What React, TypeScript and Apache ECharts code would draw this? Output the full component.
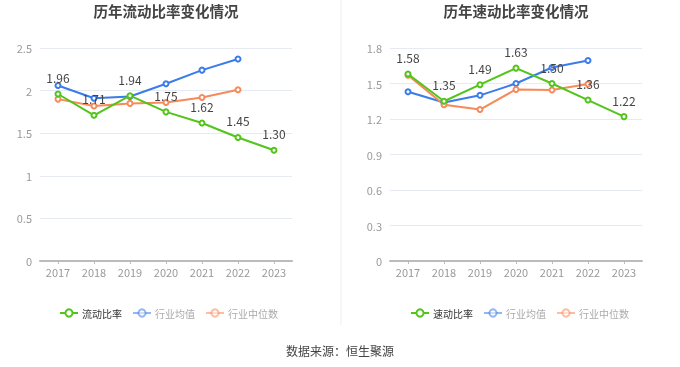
import React, { useEffect, useRef } from "react";
import * as echarts from "echarts";

const years = ["2017", "2018", "2019", "2020", "2021", "2022", "2023"];
const currentRatio = [1.96, 1.71, 1.94, 1.75, 1.62, 1.45, 1.3];
const currentAvg = [2.06, 1.91, 1.93, 2.08, 2.24, 2.37, null];
const currentMedian = [1.9, 1.82, 1.85, 1.86, 1.92, 2.01, null];
const quickRatio = [1.58, 1.35, 1.49, 1.63, 1.5, 1.36, 1.22];
const quickAvg = [1.43, 1.34, 1.4, 1.5, 1.635, 1.695, null];
const quickMedian = [1.57, 1.32, 1.28, 1.45, 1.445, 1.495, null];

const GREEN = "#52c41a";
const BLUE = "#3b7bea";
const ORANGE = "#f7895a";
const FONT = "'Noto Sans CJK SC', 'Noto Sans', sans-serif";

export default function App() {
  const ref = useRef<HTMLDivElement>(null);
  useEffect(() => {
    if (!ref.current) return;
    const chart = echarts.init(ref.current, undefined, { renderer: "svg" });
    const xAxis = (gi: number) => ({
      type: "category",
      gridIndex: gi,
      data: years,
      boundaryGap: true,
      axisLine: { lineStyle: { color: "#bbbbbb", width: 2 } },
      axisTick: { show: true, alignWithLabel: true, length: 3, lineStyle: { color: "#bbbbbb" } },
      axisLabel: { color: "#999999", fontSize: 11, fontFamily: FONT, margin: 5 },
    });
    const yAxis = (gi: number, max: number, interval: number) => ({
      type: "value",
      gridIndex: gi,
      min: 0,
      max,
      interval,
      axisLine: { show: false },
      axisTick: { show: false },
      splitLine: { lineStyle: { color: "#e6eaf3" } },
      axisLabel: { color: "#999999", fontSize: 11, fontFamily: FONT, margin: 8 },
    });
    const sub = (name: string, data: any[], color: string, gi: number) => ({
      name,
      type: "line",
      xAxisIndex: gi,
      yAxisIndex: gi,
      data,
      symbol: "emptyCircle",
      symbolSize: 5,
      lineStyle: { color, width: 2 },
      itemStyle: { color },
      z: 2,
    });
    const main = (name: string, data: any[], gi: number, fmt: (v: number) => string) => ({
      name,
      type: "line",
      xAxisIndex: gi,
      yAxisIndex: gi,
      data,
      symbol: "emptyCircle",
      symbolSize: 5,
      lineStyle: { color: GREEN, width: 2 },
      itemStyle: { color: GREEN },
      z: 3,
      label: {
        show: true,
        position: "top",
        distance: 7,
        color: "#444444",
        fontSize: 12,
        fontFamily: FONT,
        formatter: (p: any) => fmt(p.value),
      },
    });
    const legendData = (mainName: string) => [
      { name: mainName, textStyle: { color: "#333333" } },
      { name: "行业均值", textStyle: { color: "#aaaaaa" }, itemStyle: { opacity: 0.55 }, lineStyle: { opacity: 0.55 } },
      { name: "行业中位数", textStyle: { color: "#aaaaaa" }, itemStyle: { opacity: 0.55 }, lineStyle: { opacity: 0.55 } },
    ];
    const legendCommon = {
      top: 308,
      padding: 0,
      itemWidth: 18,
      itemHeight: 9,
      itemGap: 10,
      textStyle: { fontSize: 10, fontFamily: FONT, padding: [0, 0, 0, -1] },
    };
    chart.setOption({
      animation: false,
      textStyle: { fontFamily: FONT },
      title: [
        { text: "历年流动比率变化情况", left: 166, top: 3, padding: 0, textAlign: "center", textStyle: { fontSize: 14.5, fontWeight: "bold", color: "#444444", fontFamily: FONT } },
        { text: "历年速动比率变化情况", left: 516, top: 3, padding: 0, textAlign: "center", textStyle: { fontSize: 14.5, fontWeight: "bold", color: "#444444", fontFamily: FONT } },
        { text: "数据来源：恒生聚源", left: 340, top: 344, padding: 0, textAlign: "center", textStyle: { fontSize: 12, fontWeight: "normal", color: "#444444", fontFamily: FONT } },
      ],
      legend: [
        { ...legendCommon, data: legendData("流动比率"), left: 59 },
        { ...legendCommon, data: legendData("速动比率"), left: 410 },
      ],
      grid: [
        { left: 40, right: 388, top: 48, bottom: 106 },
        { left: 390, right: 38, top: 48, bottom: 106 },
      ],
      xAxis: [xAxis(0), xAxis(1)],
      yAxis: [yAxis(0, 2.5, 0.5), yAxis(1, 1.8, 0.3)],
      graphic: [
        { type: "line", shape: { x1: 341, y1: 0, x2: 341, y2: 325 }, style: { stroke: "#eeeeee", lineWidth: 1 } },
      ],
      series: [
        sub("行业均值", currentAvg, BLUE, 0),
        sub("行业中位数", currentMedian, ORANGE, 0),
        main("流动比率", currentRatio, 0, (v) => v.toFixed(2)),
        sub("行业均值", quickAvg, BLUE, 1),
        sub("行业中位数", quickMedian, ORANGE, 1),
        main("速动比率", quickRatio, 1, (v) => v.toFixed(2)),
      ],
    });
    return () => chart.dispose();
  }, []);
  return <div ref={ref} style={{ position: "fixed", left: 0, top: 0, width: 680, height: 367 }} />;
}
